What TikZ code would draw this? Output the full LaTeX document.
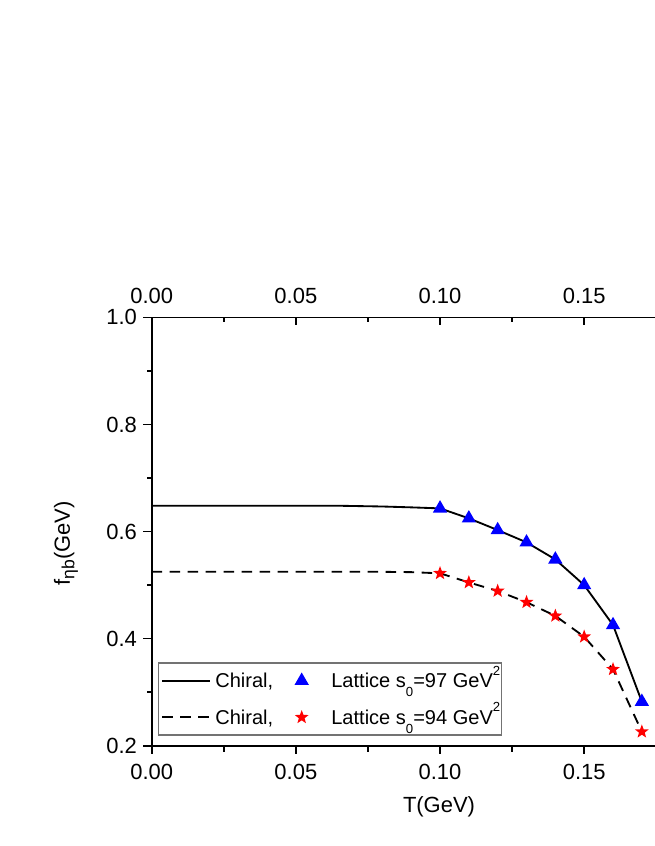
\documentclass[tikz,border=0pt]{standalone}
\usepackage{fontspec}
\setmainfont{Liberation Sans}
\usepackage{tikz}
\usetikzlibrary{shapes.geometric,positioning}
\tikzset{
    % axis lines and ticks
    axisline/.style={
           line width=0.95pt},
    % data curves
    chiral/.style={
           line width=1.05pt,
           line join=round},
    chiraldash/.style={
           chiral,
           dash pattern=on 0.21cm off 0.15cm},
    % markers
    tri/.style={
           regular polygon, regular polygon sides=3,
           fill=blue, inner sep=0pt, minimum size=0.33cm},
    redstar/.style={
           star, star points=5, star point ratio=2.4,
           fill=red, inner sep=0pt, minimum size=0.29cm},
    % texts
    ticklabel/.style={
           inner sep=0pt,
           font=\fontsize{12.5}{15}\selectfont},
    legendtext/.style={
           inner sep=0pt,
           font=\fontsize{11.4}{13}\selectfont},
    legendbox/.style={
           draw=black!55, line width=0.7pt, fill=white, inner sep=0pt}
}
\newcommand{\lsub}[1]{\raisebox{-5pt}{\fontsize{7.5}{8}\selectfont #1}}
\newcommand{\lsup}[1]{\raisebox{7.2pt}{\fontsize{7.5}{8}\selectfont #1}}

\begin{document}
\begin{tikzpicture}[x=0.02cm, y=0.02cm]
	\useasboundingbox (0,0) rectangle (654,846);

	% plot area: T on x, f on y
	\begin{scope}[shift={(3.034cm,-0.136cm)}, x=57.68cm, y=10.71cm]
	% frame
	\draw[axisline] (0,1) -- (0,0.2) -- (0.19,0.2);
	\draw[axisline] (0,1) -- (0.19,1);

	% bottom ticks (outward)
	\foreach \x/\lab [count=\i] in {0/0.00, 0.05/0.05, 0.10/0.10, 0.15/0.15}{
		\draw[axisline] (\x,0.2) -- ++(0,-0.175cm);
		\node[ticklabel, yshift=-0.52cm] (xb-\i) at (\x,0.2) {\lab};
	}
	\foreach \x in {0.025,0.075,0.125,0.175}
		\draw[axisline] (\x,0.2) -- ++(0,-0.12cm);

	% top ticks (inward)
	\foreach \x/\lab [count=\i] in {0/0.00, 0.05/0.05, 0.10/0.10, 0.15/0.15}{
		\draw[axisline] (\x,1) -- ++(0,-0.155cm);
		\node[ticklabel, yshift=0.432cm] (xt-\i) at (\x,1) {\lab};
	}
	\foreach \x in {0.025,0.075,0.125,0.175}
		\draw[axisline] (\x,1) -- ++(0,-0.087cm);

	% left ticks (outward)
	\foreach \y/\lab [count=\i] in {0.2/0.2, 0.4/0.4, 0.6/0.6, 0.8/0.8, 1.0/1.0}{
		\draw[axisline] (0,\y) -- ++(-0.18cm,0);
		\node[ticklabel, anchor=east, xshift=-0.288cm] (yl-\i) at (0,\y) {\lab};
	}
	\foreach \y in {0.3,0.5,0.7,0.9}
		\draw[axisline] (0,\y) -- ++(-0.1cm,0);

	% chiral curves
	\draw[chiral] plot coordinates {(0,0.6482) (0.065,0.6482) (0.08,0.6468) (0.09,0.6452)
		(0.10,0.6433) (0.11,0.6247) (0.12,0.6028) (0.13,0.5798) (0.14,0.548)
		(0.15,0.500) (0.16,0.4254) (0.17,0.2822)};
	\draw[chiraldash] plot coordinates {(0,0.525) (0.08,0.5248) (0.09,0.5242)
		(0.10,0.522) (0.11,0.505) (0.12,0.489) (0.13,0.468) (0.14,0.4425)
		(0.15,0.4035) (0.16,0.3427) (0.17,0.2262)};

	% lattice points
	\foreach \t/\f [count=\i] in {0.10/0.6433, 0.11/0.6247, 0.12/0.6028, 0.13/0.5798,
		0.14/0.548, 0.15/0.500, 0.16/0.4254, 0.17/0.2822}
		\node[tri] (lat97-\i) at (\t,\f) {};
	\foreach \t/\f [count=\i] in {0.10/0.522, 0.11/0.505, 0.12/0.489, 0.13/0.468,
		0.14/0.4425, 0.15/0.4035, 0.16/0.3427, 0.17/0.2262}
		\node[redstar] (lat94-\i) at (\t,\f) {};
	\end{scope}

	% axis titles
	\node[ticklabel] (xtitle) at (439,39.3) {T(GeV)};
	\node[ticklabel, rotate=90] (ytitle) at (66,302.7)
		{f\raisebox{-2.5pt}{\fontsize{10}{10}\selectfont ηb}(GeV)};

	% legend
	\node[legendbox, minimum width=6.868cm, minimum height=1.44cm] (legend) at (330,147) {};

	\coordinate (leg1-a) at (162.3,165.3);
	\coordinate (leg1-b) at (210,165.3);
	\draw[chiral] (leg1-a) -- (leg1-b);
	\node[legendtext, anchor=base west] (leg1-chiral) at (215,158) {Chiral,};
	\node[tri] (leg1-mark) at (301.7,165.3) {};
	\node[legendtext, anchor=base west] (leg1-lat) at (331,158) {Lattice s\lsub{0}=97 GeV\lsup{2}};

	\coordinate (leg2-a) at (162.3,128.7);
	\coordinate (leg2-b) at (210,128.7);
	\draw[chiraldash] (leg2-a) -- (leg2-b);
	\node[legendtext, anchor=base west] (leg2-chiral) at (215,121.5) {Chiral,};
	\node[redstar] (leg2-mark) at (301.7,128.7) {};
	\node[legendtext, anchor=base west] (leg2-lat) at (331,121.5) {Lattice s\lsub{0}=94 GeV\lsup{2}};

\end{tikzpicture}
\end{document}
